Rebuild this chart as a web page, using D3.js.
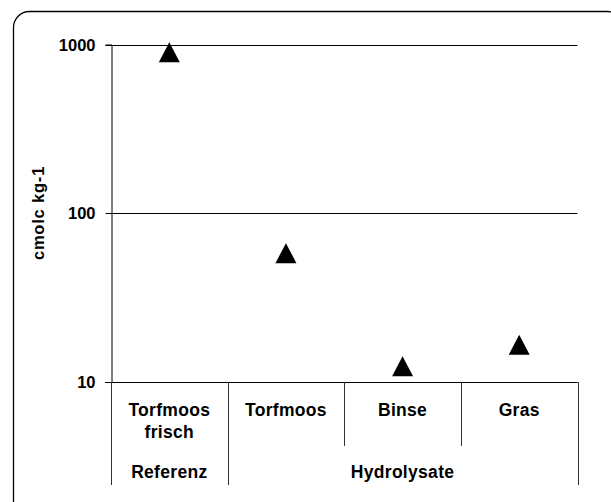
<!DOCTYPE html>
<html>
<head>
<meta charset="utf-8">
<script src="https://cdn.jsdelivr.net/npm/d3@7"></script>
<style>
  html, body { margin: 0; padding: 0; background: #fff; }
  svg { display: block; }
  text { font-family: "Liberation Sans", Arial, sans-serif; font-weight: bold; fill: #000; }
</style>
</head>
<body>
<svg id="chart" width="611" height="502"></svg>
<script>
// ---- data ----
const categories = ["Torfmoos frisch", "Torfmoos", "Binse", "Gras"];
const categoryLines = [["Torfmoos", "frisch"], ["Torfmoos"], ["Binse"], ["Gras"]];
const values = [900, 58, 12.4, 16.6];
const groups = ["Referenz", "Hydrolysate"];
const groupSpans = [[0, 1], [1, 4]]; // category index ranges [start, end)
const yTicks = [10, 100, 1000];
const yLabel = "cmolc kg-1";

// ---- layout ----
const svg = d3.select("#chart");
const pLeft = 111, pRight = 577.5, pTop = 44.5, pBottom = 382;

svg.append("rect")
  .attr("x", 13.5).attr("y", 11.5)
  .attr("width", 610).attr("height", 510)
  .attr("rx", 16).attr("ry", 16)
  .attr("fill", "#fff").attr("stroke", "#000").attr("stroke-width", 1.3);

const x = d3.scaleBand().domain(categories).range([pLeft, pRight]).padding(0);
const y = d3.scaleLog().domain([10, 1000]).range([pBottom, pTop]);

// gridlines
svg.append("g").selectAll("line")
  .data(yTicks.filter(t => t !== 10))
  .join("line")
  .attr("x1", pLeft).attr("x2", pRight)
  .attr("y1", d => Math.round(y(d)) + 0.5).attr("y2", d => Math.round(y(d)) + 0.5)
  .attr("stroke", "#000").attr("stroke-width", 1);

// y axis
const yAxis = d3.axisLeft(y).tickValues(yTicks).tickFormat(d3.format("d")).tickSize(6).tickPadding(10);
const gy = svg.append("g").attr("transform", `translate(${pLeft + 0.5},0)`).call(yAxis);
gy.select(".domain").attr("stroke", "#000");
gy.selectAll(".tick line").attr("stroke", "#000");
gy.selectAll(".tick text").attr("font-size", 16.5).style("font-weight", "bold").attr("font-family", "Liberation Sans, Arial, sans-serif");
gy.selectAll(".tick").attr("transform", d => `translate(0,${Math.round(y(d)) + 0.5})`);

// x axis baseline
svg.append("line")
  .attr("x1", pLeft - 6).attr("x2", pRight)
  .attr("y1", pBottom + 0.5).attr("y2", pBottom + 0.5)
  .attr("stroke", "#000");

// category dividers
const boundaries = d3.range(categories.length + 1).map(i => i < categories.length ? x(categories[i]) : x(categories[i - 1]) + x.bandwidth());
const groupBounds = new Set(groupSpans.flatMap(s => s));
svg.append("g").selectAll("line")
  .data(boundaries.map((b, i) => ({ b, i })))
  .join("line")
  .attr("x1", d => Math.round(d.b) + 0.5).attr("x2", d => Math.round(d.b) + 0.5)
  .attr("y1", pBottom)
  .attr("y2", d => groupBounds.has(d.i) ? 485 : 446)
  .attr("stroke", "#333").attr("stroke-width", 1);

// category labels
const catG = svg.append("g");
categories.forEach((c, i) => {
  const t = catG.append("text")
    .attr("x", x(c) + x.bandwidth() / 2)
    .attr("y", 416)
    .attr("text-anchor", "middle")
    .attr("font-size", 17.5)
    .style("letter-spacing", "0.3px");
  categoryLines[i].forEach((ln, k) => {
    t.append("tspan").attr("x", x(c) + x.bandwidth() / 2).attr("dy", k === 0 ? 0 : 21.5).text(ln);
  });
});

// group labels
groups.forEach((g, i) => {
  const [s, e] = groupSpans[i];
  const x0 = x(categories[s]);
  const x1 = x(categories[e - 1]) + x.bandwidth();
  svg.append("text")
    .attr("x", (x0 + x1) / 2)
    .attr("y", 477.5)
    .attr("text-anchor", "middle")
    .attr("font-size", 17.5)
    .style("letter-spacing", "0.3px")
    .text(g);
});

// y label
svg.append("text")
  .attr("transform", `translate(43.5,213) rotate(-90)`)
  .attr("text-anchor", "middle")
  .attr("font-size", 16.5)
  .style("letter-spacing", "0.8px")
  .text(yLabel);

// markers (triangles)
svg.append("g").selectAll("path")
  .data(values.map((v, i) => ({ v, c: categories[i] })))
  .join("path")
  .attr("transform", d => `translate(${x(d.c) + x.bandwidth() / 2},${y(d.v)})`)
  .attr("d", () => {
    const hw = 10.5, h = 20;
    return `M0,${-h / 2}L${hw},${h / 2}L${-hw},${h / 2}Z`;
  })
  .attr("fill", "#000");
</script>
</body>
</html>
